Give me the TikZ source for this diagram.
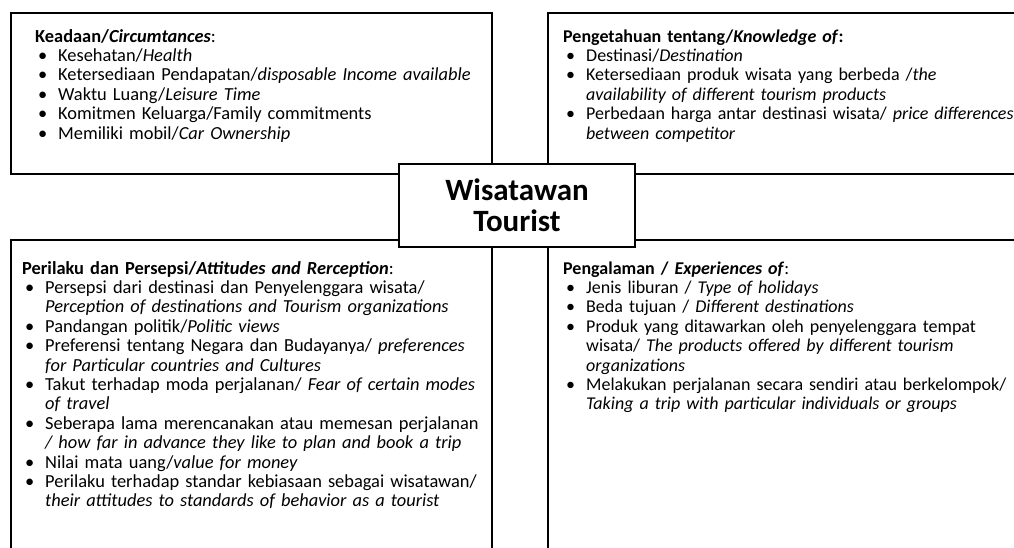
\documentclass[tikz,border=0pt]{standalone}
\usepackage{fontspec}
\setmainfont{Carlito}
\newcommand{\bl}{\hspace*{3pt}\makebox[20pt][l]{•}}
\newcommand{\ind}{\hspace*{23pt}}
\begin{document}
\begin{tikzpicture}[x=1pt,y=-1pt,
  box/.style={draw=black,line width=2.2pt,anchor=north west,inner sep=0pt},
  txt/.style={anchor=base west,inner sep=0pt,text width=560pt,align=left,
    font=\fontsize{18}{19.4}\selectfont},
  txtl/.style={txt,font=\fontsize{18.4}{19.4}\selectfont},
  center/.style={draw=black,line width=2.2pt,fill=white,inner sep=0pt,
    minimum width=236pt,minimum height=83pt,align=center,
    font=\fontsize{31}{31}\selectfont\bfseries}
]
\useasboundingbox (0,0) rectangle (1014,547);
\clip (0,0) rectangle (1014,547);
% boxes
\node[box,minimum width=481pt,minimum height=161pt] (circ) at (10,12) {};
\node[box,minimum width=500pt,minimum height=161pt] (know) at (547,12) {};
\node[box,minimum width=481pt,minimum height=350pt] (att) at (10,239) {};
\node[box,minimum width=500pt,minimum height=350pt] (exp) at (547,239) {};
% texts
\node[txtl] (circtext) at (35,42) {%
\textbf{Keadaan/\textit{Circumtances}}:\\
\bl Kesehatan/\textit{Health}\\
\bl Ketersediaan Pendapatan/\textit{disposable Income available}\\
\bl Waktu Luang/\textit{Leisure Time}\\
\bl Komitmen Keluarga/Family commitments\\
\bl Memiliki mobil/\textit{Car Ownership}};
\node[txt] (knowtext) at (563,42) {%
\textbf{Pengetahuan tentang/\textit{Knowledge of}:}\\
\bl Destinasi/\textit{Destination}\\
\bl Ketersediaan produk wisata yang berbeda /\textit{the}\\
\ind\textit{availability of different tourism products}\\
\bl Perbedaan harga antar destinasi wisata/ \textit{price differences}\\
\ind\textit{between competitor}};
\node[txtl] (atttext) at (22,274) {%
\textbf{Perilaku dan Persepsi/\textit{Attitudes and Rerception}}:\\
\bl Persepsi dari destinasi dan Penyelenggara wisata/\\
\ind\textit{Perception of destinations and Tourism organizations}\\
\bl Pandangan politik/\textit{Politic views}\\
\bl Preferensi tentang Negara dan Budayanya/ \textit{preferences}\\
\ind\textit{for Particular countries and Cultures}\\
\bl Takut terhadap moda perjalanan/ \textit{Fear of certain modes}\\
\ind\textit{of travel}\\
\bl Seberapa lama merencanakan atau memesan perjalanan\\
\ind\textit{/ how far in advance they like to plan and book a trip}\\
\bl Nilai mata uang/\textit{value for money}\\
\bl Perilaku terhadap standar kebiasaan sebagai wisatawan/\\
\ind\textit{their attitudes to standards of behavior as a tourist}};
\node[txt] (exptext) at (563,274) {%
\textbf{Pengalaman / \textit{Experiences of}}:\\
\bl Jenis liburan / \textit{Type of holidays}\\
\bl Beda tujuan / \textit{Different destinations}\\
\bl Produk yang ditawarkan oleh penyelenggara tempat\\
\ind wisata/ \textit{The products offered by different tourism}\\
\ind\textit{organizations}\\
\bl Melakukan perjalanan secara sendiri atau berkelompok/\\
\ind\textit{Taking a trip with particular individuals or groups}};
% central
\node[center] (tourist) at (517,205.5) {Wisatawan\\Tourist};
\end{tikzpicture}
\end{document}
